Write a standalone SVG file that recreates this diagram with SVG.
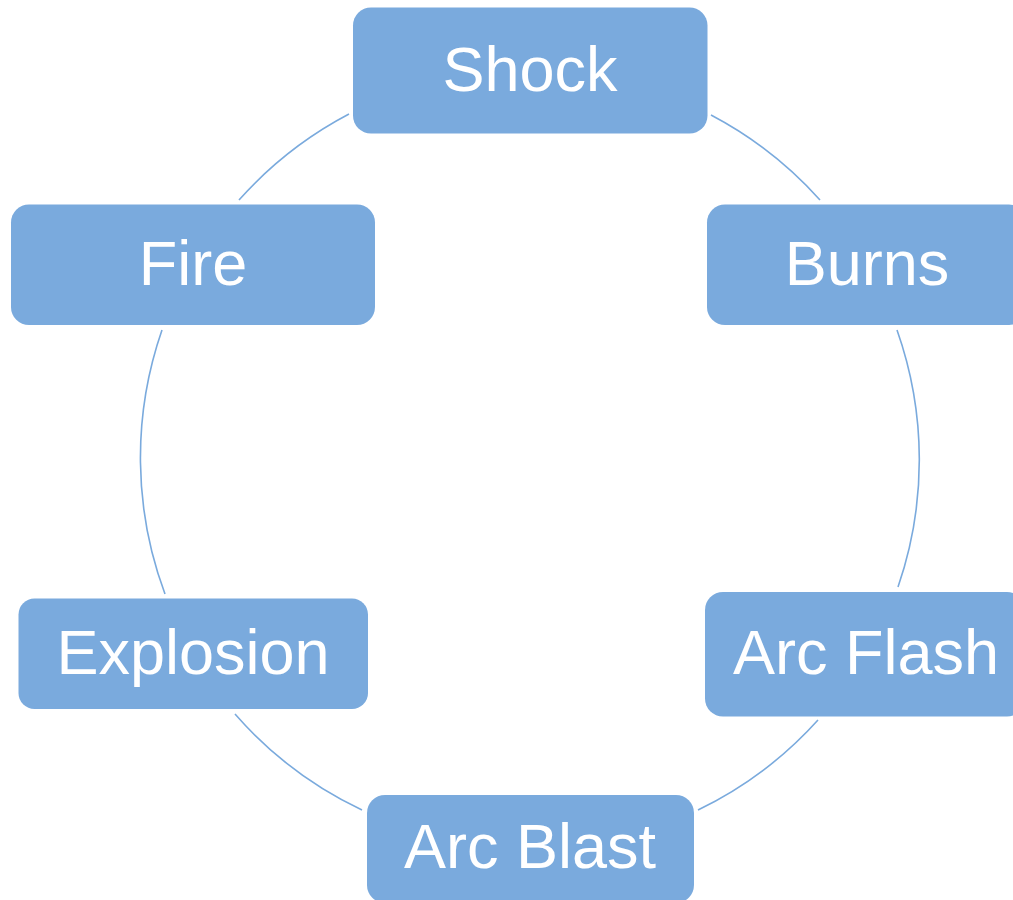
<svg xmlns="http://www.w3.org/2000/svg" width="1013" height="900" viewBox="0 0 1013 900">
<style>
.node{fill:#7AAADD;}
.lbl{fill:#FFFFFF;font-family:"Liberation Sans",Arial,sans-serif;font-size:63px;text-anchor:middle;}
.arc{fill:none;stroke:#7AAADD;stroke-width:1.6;}
</style>
<rect width="1013" height="900" fill="#FFFFFF"/>
<g id="connectors">
<path class="arc" d="M 711,115 A 389.5 389.5 0 0 1 820,200"/>
<path class="arc" d="M 897,330 A 389.5 389.5 0 0 1 898,587"/>
<path class="arc" d="M 818,720 A 389.5 389.5 0 0 1 698,810"/>
<path class="arc" d="M 362,810 A 389.5 389.5 0 0 1 235,714"/>
<path class="arc" d="M 165,594 A 389.5 389.5 0 0 1 162,330"/>
<path class="arc" d="M 239,200 A 389.5 389.5 0 0 1 349,114"/>
</g>
<g id="shock">
<rect class="node" x="353" y="7.5" width="354.5" height="126" rx="18"/>
<text class="lbl" x="530" y="91">Shock</text>
</g>
<g id="burns">
<rect class="node" x="707" y="204.5" width="320" height="120.5" rx="18"/>
<text class="lbl" x="867" y="285">Burns</text>
</g>
<g id="fire">
<rect class="node" x="11" y="204.5" width="364" height="120.5" rx="18"/>
<text class="lbl" x="193" y="285">Fire</text>
</g>
<g id="explosion">
<rect class="node" x="18.5" y="598.5" width="349.5" height="110.5" rx="16"/>
<text class="lbl" x="193" y="674">Explosion</text>
</g>
<g id="arc-flash">
<rect class="node" x="705" y="592" width="320" height="124.5" rx="18"/>
<text class="lbl" x="866" y="674">Arc Flash</text>
</g>
<g id="arc-blast">
<rect class="node" x="367" y="795" width="327" height="108" rx="18"/>
<text class="lbl" x="530" y="868">Arc Blast</text>
</g>
</svg>
